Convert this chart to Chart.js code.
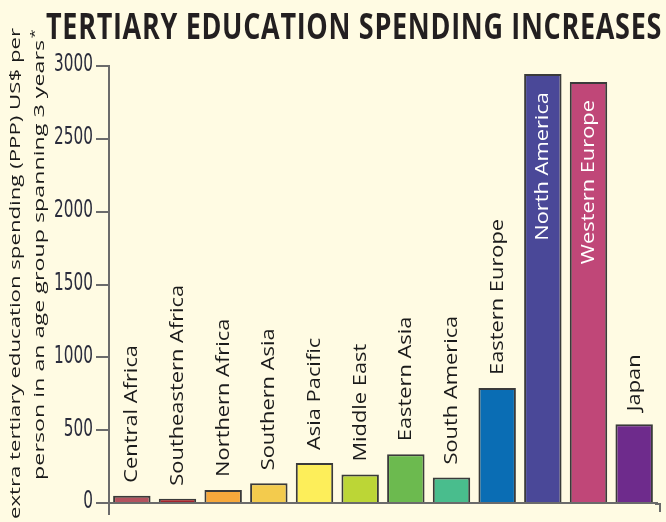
<!DOCTYPE html>
<html>
<head>
<meta charset="utf-8">
<script src="https://cdn.jsdelivr.net/npm/chart.js@4/dist/chart.umd.min.js"></script>
<style>
  html, body { margin: 0; padding: 0; background: #fffbe3; }
  canvas { display: block; }
</style>
</head>
<body>
<canvas id="chart" width="666" height="522"></canvas>
<script>
// Regions and their extra tertiary spending per person (PPP US$)
const regions = [
  'Central Africa', 'Southeastern Africa', 'Northern Africa', 'Southern Asia',
  'Asia Pacific', 'Middle East', 'Eastern Asia', 'South America',
  'Eastern Europe', 'North America', 'Western Europe', 'Japan'
];
const spending = [50, 30, 90, 135, 275, 195, 335, 175, 790, 2945, 2890, 540];
const barColors = [
  '#b4525e', '#a3232d', '#f7a83b', '#f3cb4d',
  '#fdee5a', '#bcd636', '#6cba4f', '#49bd8d',
  '#0a6db4', '#4a4898', '#c04778', '#6e2b8c'
];
const yTicks = [0, 500, 1000, 1500, 2000, 2500, 3000];

const titleText = 'TERTIARY EDUCATION SPENDING INCREASES';
const axisTitleLines = ['extra tertiary education spending (PPP) US$ per', 'person in an age group spanning 3 years'];

const AXIS_GREY = '#6b6b6b';
const SANS = '"Open Sans", "DejaVu Sans", sans-serif';
const CONDENSED = '"DejaVu Sans Condensed", "Liberation Sans", sans-serif';
// the type in this graphic is set tall and narrow
const TEXT_STRETCH = 1.15;

// Title, tick numbers, rotated axis title, region labels and axis end marks
const decorations = {
  id: 'decorations',
  afterDraw(chart) {
    const ctx = chart.ctx;
    const area = chart.chartArea;
    const yScale = chart.scales.y;

    // title
    ctx.save();
    ctx.fillStyle = '#231f20';
    ctx.font = 'bold 27px ' + SANS;
    ctx.letterSpacing = '0.7px';
    ctx.textAlign = 'left';
    ctx.textBaseline = 'alphabetic';
    ctx.translate(46, 39);
    ctx.scale(1, 1.35);
    ctx.fillText(titleText, 0, 0, 616);
    ctx.restore();

    // tick numbers
    ctx.save();
    ctx.fillStyle = '#2a2c3c';
    ctx.font = '17px ' + CONDENSED;
    ctx.textAlign = 'right';
    ctx.textBaseline = 'middle';
    yTicks.forEach(v => {
      ctx.save();
      ctx.translate(area.left - 16, yScale.getPixelForValue(v) - 1);
      ctx.scale(1, 1.45);
      ctx.fillText(String(v), 0, 0);
      ctx.restore();
    });
    ctx.restore();

    // y axis title, two rotated lines
    ctx.save();
    ctx.fillStyle = '#1a1a1a';
    ctx.font = '15px ' + SANS;
    ctx.textBaseline = 'middle';
    ctx.textAlign = 'right';
    ctx.save();
    ctx.translate(16, 28);
    ctx.rotate(-Math.PI / 2);
    ctx.scale(1.48, 1);
    ctx.fillText(axisTitleLines[0], 0, 0);
    ctx.restore();
    ctx.save();
    ctx.translate(40, 40);
    ctx.rotate(-Math.PI / 2);
    ctx.scale(1.55, 1);
    ctx.fillText(axisTitleLines[1], 0, 0);
    ctx.font = '11px ' + SANS;
    ctx.textAlign = 'left';
    ctx.fillText('*', 1, -5);
    ctx.restore();
    ctx.restore();

    // extensions of the axis lines past the origin and at the far end
    ctx.save();
    ctx.strokeStyle = AXIS_GREY;
    ctx.lineWidth = 2;
    ctx.beginPath();
    ctx.moveTo(area.left, area.bottom);
    ctx.lineTo(area.left, area.bottom + 12);
    ctx.moveTo(area.right + 3, area.bottom);
    ctx.lineTo(area.right + 3, area.bottom + 9);
    ctx.moveTo(area.right - 2, area.bottom + 1);
    ctx.lineTo(area.right + 4, area.bottom + 1);
    ctx.stroke();
    ctx.restore();

    // region labels, rotated; the two tallest bars carry theirs inside
    const meta = chart.getDatasetMeta(0);
    ctx.save();
    ctx.font = '19px ' + SANS;
    ctx.textBaseline = 'middle';
    meta.data.forEach((bar, i) => {
      const inside = spending[i] > 2000;
      ctx.save();
      if (inside) {
        ctx.translate(bar.x, bar.y + 18);
        ctx.rotate(-Math.PI / 2);
        ctx.textAlign = 'right';
        ctx.fillStyle = '#ffffff';
      } else {
        ctx.translate(bar.x, bar.y - 13);
        ctx.rotate(-Math.PI / 2);
        ctx.textAlign = 'left';
        ctx.fillStyle = '#1b1b1b';
      }
      ctx.scale(TEXT_STRETCH, 1);
      ctx.fillText(regions[i], 0, 0);
      ctx.restore();
    });
    ctx.restore();
  }
};

new Chart(document.getElementById('chart'), {
  type: 'bar',
  data: {
    labels: regions,
    datasets: [{
      data: spending,
      backgroundColor: barColors,
      borderColor: '#3a3a3a',
      borderWidth: 2,
      borderSkipped: 'bottom',
      barPercentage: 0.82,
      categoryPercentage: 1
    }]
  },
  options: {
    responsive: false,
    animation: false,
    events: [],
    layout: { padding: { top: 66, right: 9, left: 0, bottom: 0 } },
    plugins: { legend: { display: false }, tooltip: { enabled: false }, title: { display: false } },
    scales: {
      x: {
        grid: { display: false },
        ticks: { display: false },
        border: { display: true, color: AXIS_GREY, width: 2 },
        afterFit(scale) { scale.height = 19; }
      },
      y: {
        min: 0,
        max: 3000,
        afterBuildTicks(scale) { scale.ticks = yTicks.map(v => ({ value: v })); },
        ticks: { display: false },
        grid: { drawOnChartArea: false, drawTicks: true, tickLength: 13, color: AXIS_GREY, lineWidth: 2 },
        border: { display: true, color: AXIS_GREY, width: 2 },
        afterFit(scale) { scale.width = 109; }
      }
    }
  },
  plugins: [decorations]
});
</script>
</body>
</html>
